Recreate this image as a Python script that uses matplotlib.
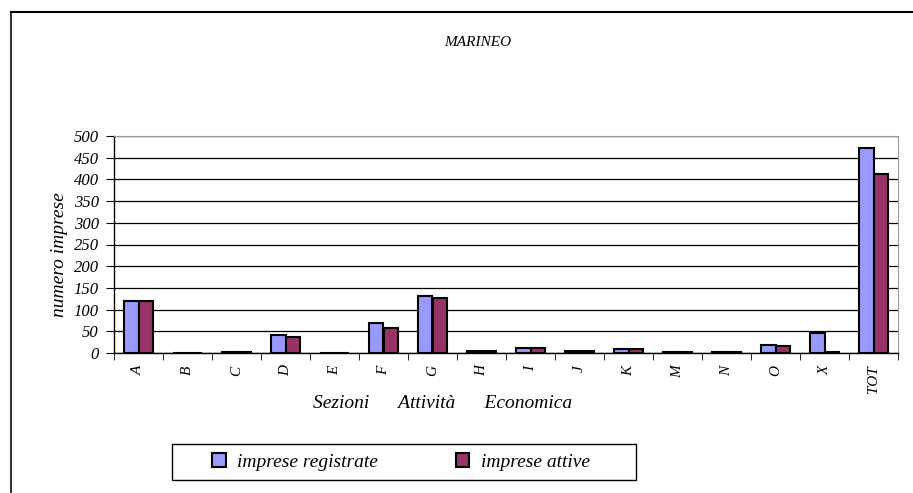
import matplotlib.pyplot as plt
import numpy as np
from matplotlib.lines import Line2D
from matplotlib.patches import Rectangle

categorie = ['A', 'B', 'C', 'D', 'E', 'F', 'G', 'H', 'I', 'J', 'K', 'M', 'N', 'O', 'X', 'TOT']
registrate = [120, 0, 2, 41, 0, 70, 131, 5, 11, 5, 10, 2, 3, 18, 47, 472]
attive = [120, 0, 2, 38, 0, 58, 126, 5, 11, 5, 10, 2, 3, 16, 3, 412]
y_ticks = [0, 50, 100, 150, 200, 250, 300, 350, 400, 450, 500]

plt.rcParams['font.family'] = ['Liberation Serif', 'DejaVu Serif']
plt.rcParams['font.style'] = 'italic'

fig = plt.figure(figsize=(9.13, 4.93), dpi=100)
ax = fig.add_axes([114 / 913, 1 - 353 / 493, (898 - 114) / 913, (353 - 136) / 493])

x = np.arange(len(categorie))
w = 0.3
ax.bar(x - w / 2, registrate, w, color='#9999FF', edgecolor='black', linewidth=1.5,
       label='imprese registrate', zorder=3)
ax.bar(x + w / 2, attive, w, color='#993366', edgecolor='black', linewidth=1.5,
       label='imprese attive', zorder=3)

ax.set_xlim(-0.5, len(categorie) - 0.5)
ax.set_ylim(0, 500)
ax.set_yticks(y_ticks)
ax.set_yticklabels([str(v) for v in y_ticks], fontsize=12)
ax.yaxis.grid(True, color='black', linewidth=0.9, zorder=0)

ax.set_xticks(x)
ax.set_xticklabels(categorie, rotation=90, fontsize=11)
ax.tick_params(axis='x', length=0, pad=9)
ax.set_xticks(np.arange(len(categorie) + 1) - 0.5, minor=True)
ax.tick_params(axis='x', which='minor', length=5, direction='out', color='black')
ax.tick_params(axis='y', length=6, direction='out', pad=5)

for s in ['top', 'right']:
    ax.spines[s].set_color('#999999')
for s in ['left', 'bottom']:
    ax.spines[s].set_color('black')
    ax.spines[s].set_linewidth(1.0)

fig.text(59 / 913, 1 - 255 / 493, 'numero imprese', fontsize=14, rotation=90,
         ha='center', va='center')
fig.text(443 / 913, 1 - 403 / 493, 'Sezioni      Attività      Economica', fontsize=14,
         ha='center', va='center')

fig.text(478 / 913, 1 - 42 / 493, 'MARINEO', fontsize=11, ha='center', va='center')

# legenda senza cornice, cornice disegnata a parte
leg = fig.legend(loc='center', bbox_to_anchor=(401 / 913, 1 - 462 / 493), ncol=2,
                 fontsize=14, frameon=False,
                 handlelength=0.7, handleheight=0.7, columnspacing=4.0,
                 borderpad=0.45, handletextpad=0.6, borderaxespad=0)
for h in leg.legend_handles:
    h.set_linewidth(1.5)
fig.add_artist(Rectangle((172 / 913, 1 - 480 / 493), (636 - 172) / 913, 36 / 493,
                         transform=fig.transFigure, fill=False, edgecolor='black',
                         linewidth=1.0))

# cornice esterna (solo lato sinistro e superiore visibili)
fig.add_artist(Line2D([11 / 913, 11 / 913], [0, 1 - 12 / 493], color='#333333', linewidth=1.5))
fig.add_artist(Line2D([11 / 913, 1], [1 - 12 / 493, 1 - 12 / 493], color='black', linewidth=1.5))

fig.savefig('out.png', dpi=100)
